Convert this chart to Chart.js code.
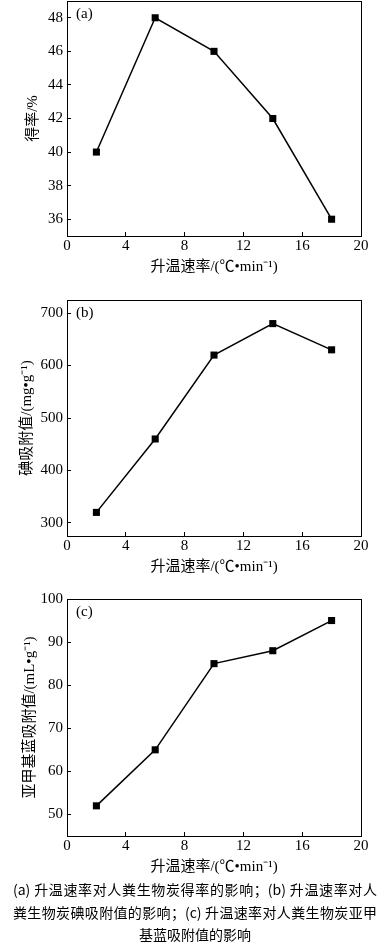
<!DOCTYPE html>
<html lang="zh">
<head>
<meta charset="utf-8">
<title>升温速率对人粪生物炭的影响</title>
<script src="https://cdn.jsdelivr.net/npm/chart.js@4.4.1/dist/chart.umd.min.js"></script>
<style>
  body { margin: 0; background: #fff; }
  #wrap { position: relative; width: 385px; height: 951px; overflow: hidden; }
  canvas { position: absolute; left: 0; }
  .cap {
    position: absolute;
    left: 13px;
    width: 364px;
    font: 14px "Noto Sans CJK SC", sans-serif;
    line-height: 22px;
    color: #000;
    text-align: justify;
    text-align-last: justify;
  }
  .cap.last { text-align: center; text-align-last: center; }
</style>
</head>
<body>
<div id="wrap">
  <canvas id="chartA" width="385" height="280" style="top:0px"></canvas>
  <canvas id="chartB" width="385" height="290" style="top:290px"></canvas>
  <canvas id="chartC" width="385" height="290" style="top:590px"></canvas>
  <div class="cap" style="top:878px">(a) 升温速率对人粪生物炭得率的影响；(b) 升温速率对人</div>
  <div class="cap" style="top:901px">粪生物炭碘吸附值的影响；(c) 升温速率对人粪生物炭亚甲</div>
  <div class="cap last" style="top:923px">基蓝吸附值的影响</div>
</div>
<script>
"use strict";

// Data.
const rates = [2, 6, 10, 14, 18];
const yieldValues = [40, 48, 46, 42, 36];
const iodineValues = [320, 460, 620, 680, 630];
const blueValues = [52, 65, 85, 88, 95];

// Tick labels.
const xTicks = [0, 4, 8, 12, 16, 20];
const yieldTicks = [36, 38, 40, 42, 44, 46, 48];
const iodineTicks = [300, 400, 500, 600, 700];
const blueTicks = [50, 60, 70, 80, 90, 100];

// Axis titles.
const xTitle = "升温速率/(℃•min⁻¹)";
const yieldTitle = "得率/%";
const iodineTitle = "碘吸附值/(mg•g⁻¹)";
const blueTitle = "亚甲基蓝吸附值/(mL•g⁻¹)";

const serif = '"Liberation Serif", "Noto Sans CJK SC", serif';
Chart.defaults.font.family = serif;
Chart.defaults.font.size = 15;
Chart.defaults.color = "#000";

// Draws the box round the plot area and the panel letter.
const framePlugin = {
    id: "frame",
    afterDraw(chart, args, opts) {
        const ctx = chart.ctx;
        const a = chart.chartArea;
        const l = Math.round(a.left) + 0.5;
        const t = Math.round(a.top) + 0.5;
        const r = Math.round(a.right) + 0.5;
        const b = Math.round(a.bottom) + 0.5;
        ctx.save();
        ctx.strokeStyle = "#000";
        ctx.lineWidth = 1;
        ctx.strokeRect(l, t, r - l, b - t);
        ctx.font = "15px " + serif;
        ctx.fillStyle = "#000";
        ctx.textBaseline = "middle";
        ctx.fillText(opts.text, a.left + 9, a.top + 13.5);
        ctx.restore();
    }
};

// Builds one panel.
function makePanel(id, values, yMin, yMax, yTicks, yTitle, titlePad, letter, topPad) {
    const points = rates.map((x, i) => ({ x: x, y: values[i] }));

    new Chart(document.getElementById(id), {
        type: "line",
        data: {
            datasets: [{
                data: points,
                borderColor: "#000",
                backgroundColor: "#000",
                borderWidth: 1.5,
                pointStyle: "rect",
                pointRadius: 5,
                pointBorderWidth: 0,
                tension: 0
            }]
        },
        options: {
            responsive: false,
            animation: false,
            layout: {
                autoPadding: false,
                padding: { top: topPad, right: 24, left: 0, bottom: 0 }
            },
            plugins: {
                legend: { display: false },
                tooltip: { enabled: false },
                frame: { text: letter }
            },
            scales: {
                x: {
                    type: "linear",
                    min: 0,
                    max: 20,
                    afterBuildTicks: s => { s.ticks = xTicks.map(v => ({ value: v })); },
                    afterFit: s => { s.height = 44; },
                    grid: { drawOnChartArea: false, drawTicks: true, tickLength: -4, color: "#000" },
                    border: { color: "#000", width: 1 },
                    ticks: { padding: 5, maxRotation: 0 },
                    title: { display: true, text: xTitle, padding: { top: 0, bottom: 4 } }
                },
                y: {
                    min: yMin,
                    max: yMax,
                    afterBuildTicks: s => { s.ticks = yTicks.map(v => ({ value: v })); },
                    // Fixed width, and no extra room kept for the end labels.
                    afterFit: s => {
                        s.width = 67;
                        s.paddingTop = 0;
                        s.paddingBottom = 0;
                    },
                    grid: { drawOnChartArea: false, drawTicks: true, tickLength: -4, color: "#000" },
                    border: { color: "#000", width: 1 },
                    ticks: { padding: 8 },
                    title: { display: true, text: yTitle, padding: titlePad }
                }
            }
        },
        plugins: [framePlugin]
    });
}

makePanel("chartA", yieldValues, 35, 49, yieldTicks, yieldTitle, 24, "(a)", 1);
makePanel("chartB", iodineValues, 275, 725, iodineTicks, iodineTitle, 18, "(b)", 10);
makePanel("chartC", blueValues, 45, 100, blueTicks, blueTitle, 21, "(c)", 9);
</script>
</body>
</html>
